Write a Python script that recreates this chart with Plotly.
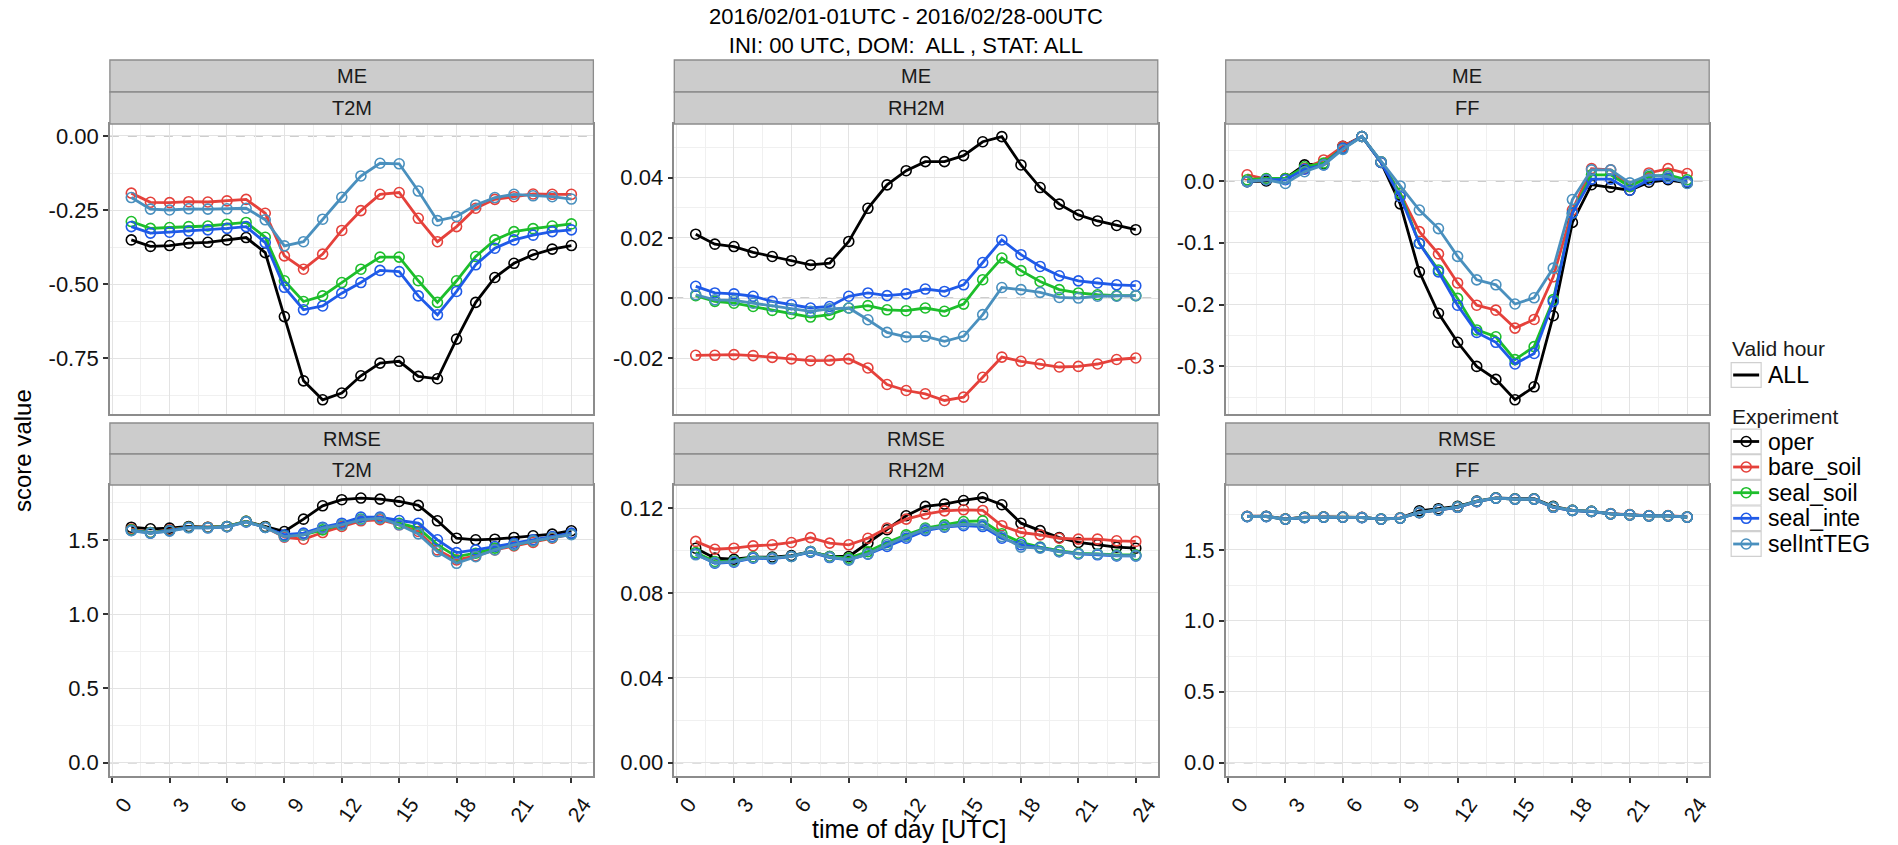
import plotly.graph_objects as go

# ---------------- data ----------------
hours = list(range(1, 25))
experiments = ["oper", "bare_soil", "seal_soil", "seal_inte", "selIntTEG"]
exp_colors = ["#000000", "#E5413B", "#1DBE2B", "#1F5AE8", "#4A90BE"]
valid_hours = ["ALL"]
scores = ["ME", "ME", "ME", "RMSE", "RMSE", "RMSE"]
params = ["T2M", "RH2M", "FF", "T2M", "RH2M", "FF"]

me_t2m_oper = [-0.351, -0.373, -0.370, -0.362, -0.359, -0.351, -0.343, -0.394, -0.610, -0.827, -0.891, -0.868,
               -0.810, -0.767, -0.761, -0.812, -0.820, -0.686, -0.562, -0.478, -0.430, -0.401, -0.382, -0.370]
me_t2m_bare_soil = [-0.193, -0.224, -0.225, -0.222, -0.223, -0.219, -0.214, -0.261, -0.405, -0.450, -0.399, -0.319,
                    -0.252, -0.197, -0.191, -0.278, -0.357, -0.306, -0.244, -0.214, -0.205, -0.196, -0.197, -0.197]
me_t2m_seal_soil = [-0.289, -0.312, -0.309, -0.306, -0.304, -0.298, -0.292, -0.342, -0.489, -0.559, -0.540, -0.495,
                    -0.450, -0.409, -0.409, -0.489, -0.562, -0.489, -0.407, -0.351, -0.323, -0.313, -0.304, -0.297]
me_t2m_seal_inte = [-0.306, -0.328, -0.325, -0.321, -0.317, -0.312, -0.306, -0.360, -0.511, -0.587, -0.574, -0.531,
                    -0.495, -0.454, -0.458, -0.540, -0.604, -0.525, -0.435, -0.379, -0.351, -0.335, -0.323, -0.317]
me_t2m_selIntTEG = [-0.208, -0.247, -0.250, -0.246, -0.247, -0.246, -0.244, -0.283, -0.371, -0.357, -0.281, -0.207,
                    -0.135, -0.092, -0.094, -0.186, -0.286, -0.272, -0.233, -0.208, -0.197, -0.202, -0.205, -0.213]

me_rh2m_oper = [0.0212, 0.0179, 0.0171, 0.0152, 0.0138, 0.0124, 0.0110, 0.0116, 0.0188, 0.0298, 0.0376, 0.0423,
                0.0453, 0.0453, 0.0473, 0.0519, 0.0536, 0.0442, 0.0367, 0.0312, 0.0276, 0.0256, 0.0241, 0.0227]
me_rh2m_bare_soil = [-0.0190, -0.0190, -0.0188, -0.0191, -0.0197, -0.0202, -0.0208, -0.0207, -0.0202, -0.0232,
                     -0.0287, -0.0307, -0.0318, -0.0340, -0.0329, -0.0263, -0.0196, -0.0210, -0.0219, -0.0229,
                     -0.0227, -0.0219, -0.0204, -0.0199]
me_rh2m_seal_soil = [0.0008, -0.0011, -0.0017, -0.0028, -0.0041, -0.0052, -0.0063, -0.0055, -0.0033, -0.0025,
                     -0.0039, -0.0042, -0.0033, -0.0044, -0.0020, 0.0061, 0.0133, 0.0091, 0.0055, 0.0028,
                     0.0017, 0.0011, 0.0008, 0.0008]
me_rh2m_seal_inte = [0.0039, 0.0017, 0.0014, 0.0006, -0.0011, -0.0022, -0.0033, -0.0028, 0.0006, 0.0017,
                     0.0008, 0.0014, 0.0030, 0.0022, 0.0044, 0.0118, 0.0193, 0.0144, 0.0105, 0.0074,
                     0.0057, 0.0050, 0.0044, 0.0041]
me_rh2m_selIntTEG = [0.0011, -0.0006, -0.0008, -0.0017, -0.0028, -0.0036, -0.0044, -0.0036, -0.0033, -0.0072,
                     -0.0114, -0.0129, -0.0127, -0.0144, -0.0127, -0.0055, 0.0035, 0.0028, 0.0019, 0.0002,
                     0.0000, 0.0006, 0.0006, 0.0008]

me_ff_oper = [-0.001, 0.000, 0.004, 0.026, 0.028, 0.056, 0.072, 0.030, -0.037, -0.147, -0.214, -0.261,
              -0.300, -0.321, -0.354, -0.333, -0.218, -0.067, -0.006, -0.010, -0.015, -0.002, 0.002, -0.003]
me_ff_bare_soil = [0.010, 0.003, 0.004, 0.020, 0.034, 0.056, 0.072, 0.031, -0.020, -0.082, -0.118, -0.165,
                   -0.201, -0.209, -0.238, -0.224, -0.155, -0.047, 0.020, 0.018, -0.009, 0.013, 0.020, 0.012]
me_ff_seal_soil = [0.002, 0.004, 0.004, 0.023, 0.029, 0.053, 0.072, 0.031, -0.020, -0.101, -0.144, -0.190,
                   -0.241, -0.252, -0.289, -0.268, -0.192, -0.052, 0.010, 0.010, -0.009, 0.007, 0.010, 0.002]
me_ff_seal_inte = [-0.001, 0.002, 0.002, 0.019, 0.026, 0.053, 0.072, 0.030, -0.025, -0.101, -0.147, -0.201,
                   -0.245, -0.261, -0.296, -0.279, -0.195, -0.052, 0.003, 0.003, -0.015, 0.002, 0.004, -0.001]
me_ff_selIntTEG = [-0.001, 0.002, -0.004, 0.015, 0.026, 0.051, 0.072, 0.031, -0.008, -0.047, -0.077, -0.122,
                   -0.160, -0.168, -0.199, -0.189, -0.141, -0.030, 0.018, 0.018, -0.003, 0.010, 0.007, -0.004]

rmse_t2m_oper = [1.585, 1.574, 1.579, 1.590, 1.585, 1.590, 1.624, 1.590, 1.556, 1.639, 1.729, 1.770,
                 1.781, 1.774, 1.758, 1.732, 1.628, 1.511, 1.500, 1.504, 1.516, 1.527, 1.538, 1.561]
rmse_t2m_bare_soil = [1.572, 1.549, 1.567, 1.585, 1.585, 1.590, 1.624, 1.585, 1.518, 1.504, 1.549, 1.590,
                      1.628, 1.635, 1.601, 1.556, 1.432, 1.365, 1.392, 1.432, 1.459, 1.482, 1.511, 1.538]
rmse_t2m_seal_soil = [1.567, 1.549, 1.563, 1.585, 1.583, 1.590, 1.624, 1.585, 1.527, 1.534, 1.567, 1.601,
                      1.639, 1.646, 1.612, 1.579, 1.466, 1.387, 1.410, 1.444, 1.466, 1.493, 1.516, 1.540]
rmse_t2m_seal_inte = [1.563, 1.545, 1.561, 1.583, 1.581, 1.588, 1.621, 1.583, 1.534, 1.545, 1.585, 1.612,
                      1.653, 1.653, 1.630, 1.612, 1.500, 1.414, 1.432, 1.455, 1.477, 1.500, 1.522, 1.545]
rmse_t2m_selIntTEG = [1.561, 1.545, 1.558, 1.581, 1.581, 1.588, 1.621, 1.583, 1.522, 1.534, 1.579, 1.601,
                      1.635, 1.646, 1.601, 1.540, 1.421, 1.342, 1.387, 1.432, 1.466, 1.493, 1.516, 1.534]

rmse_rh2m_oper = [0.1011, 0.0964, 0.0959, 0.0969, 0.0969, 0.0976, 0.0995, 0.0972, 0.0972, 0.1035, 0.1098, 0.1164,
                  0.1208, 0.1219, 0.1236, 0.1250, 0.1216, 0.1129, 0.1094, 0.1061, 0.1038, 0.1027, 0.1016, 0.1011]
rmse_rh2m_bare_soil = [0.1043, 0.1006, 0.1011, 0.1022, 0.1027, 0.1038, 0.1061, 0.1035, 0.1027, 0.1058, 0.1106,
                       0.1148, 0.1172, 0.1187, 0.1192, 0.1189, 0.1117, 0.1085, 0.1074, 0.1058, 0.1054, 0.1054,
                       0.1046, 0.1043]
rmse_rh2m_seal_soil = [0.0991, 0.0948, 0.0951, 0.0969, 0.0964, 0.0972, 0.0995, 0.0972, 0.0964, 0.0995, 0.1038,
                       0.1074, 0.1106, 0.1121, 0.1137, 0.1140, 0.1079, 0.1038, 0.1016, 0.1000, 0.0987, 0.0984,
                       0.0980, 0.0980]
rmse_rh2m_seal_inte = [0.0984, 0.0940, 0.0945, 0.0964, 0.0961, 0.0972, 0.0992, 0.0967, 0.0956, 0.0983, 0.1019,
                       0.1058, 0.1094, 0.1110, 0.1117, 0.1113, 0.1058, 0.1027, 0.1014, 0.0995, 0.0984, 0.0980,
                       0.0975, 0.0975]
rmse_rh2m_selIntTEG = [0.0980, 0.0943, 0.0948, 0.0967, 0.0964, 0.0972, 0.0995, 0.0969, 0.0956, 0.0984, 0.1027,
                       0.1066, 0.1101, 0.1113, 0.1124, 0.1121, 0.1066, 0.1016, 0.1011, 0.0995, 0.0984, 0.0983,
                       0.0976, 0.0975]

rmse_ff_oper = [1.735, 1.737, 1.717, 1.730, 1.731, 1.731, 1.728, 1.717, 1.724, 1.775, 1.790, 1.806,
                1.843, 1.866, 1.860, 1.860, 1.806, 1.778, 1.771, 1.754, 1.747, 1.740, 1.740, 1.731]
rmse_ff_bare_soil = [1.737, 1.735, 1.718, 1.728, 1.732, 1.731, 1.729, 1.716, 1.725, 1.762, 1.781, 1.800,
                     1.840, 1.864, 1.857, 1.857, 1.800, 1.779, 1.771, 1.755, 1.748, 1.741, 1.741, 1.733]
rmse_ff_seal_soil = [1.735, 1.735, 1.717, 1.729, 1.731, 1.730, 1.728, 1.717, 1.724, 1.763, 1.781, 1.801,
                     1.841, 1.865, 1.858, 1.858, 1.801, 1.778, 1.771, 1.754, 1.747, 1.740, 1.740, 1.731]
rmse_ff_seal_inte = [1.734, 1.734, 1.716, 1.727, 1.730, 1.730, 1.727, 1.716, 1.723, 1.762, 1.780, 1.800,
                     1.840, 1.864, 1.857, 1.857, 1.800, 1.777, 1.770, 1.753, 1.746, 1.739, 1.739, 1.730]
rmse_ff_selIntTEG = [1.735, 1.735, 1.717, 1.728, 1.731, 1.731, 1.728, 1.717, 1.724, 1.764, 1.782, 1.801,
                     1.841, 1.865, 1.858, 1.858, 1.801, 1.778, 1.771, 1.754, 1.747, 1.740, 1.740, 1.731]

panel_data = [
    [me_t2m_oper, me_t2m_bare_soil, me_t2m_seal_soil, me_t2m_seal_inte, me_t2m_selIntTEG],
    [me_rh2m_oper, me_rh2m_bare_soil, me_rh2m_seal_soil, me_rh2m_seal_inte, me_rh2m_selIntTEG],
    [me_ff_oper, me_ff_bare_soil, me_ff_seal_soil, me_ff_seal_inte, me_ff_selIntTEG],
    [rmse_t2m_oper, rmse_t2m_bare_soil, rmse_t2m_seal_soil, rmse_t2m_seal_inte, rmse_t2m_selIntTEG],
    [rmse_rh2m_oper, rmse_rh2m_bare_soil, rmse_rh2m_seal_soil, rmse_rh2m_seal_inte, rmse_rh2m_selIntTEG],
    [rmse_ff_oper, rmse_ff_bare_soil, rmse_ff_seal_soil, rmse_ff_seal_inte, rmse_ff_selIntTEG],
]

x_ticks = [0, 3, 6, 9, 12, 15, 18, 21, 24]
y_tickvals = [
    [-0.75, -0.50, -0.25, 0.00],
    [-0.02, 0.00, 0.02, 0.04],
    [-0.3, -0.2, -0.1, 0.0],
    [0.0, 0.5, 1.0, 1.5],
    [0.00, 0.04, 0.08, 0.12],
    [0.0, 0.5, 1.0, 1.5],
]
y_ticktext = [
    ["-0.75", "-0.50", "-0.25", "0.00"],
    ["-0.02", "0.00", "0.02", "0.04"],
    ["-0.3", "-0.2", "-0.1", "0.0"],
    ["0.0", "0.5", "1.0", "1.5"],
    ["0.00", "0.04", "0.08", "0.12"],
    ["0.0", "0.5", "1.0", "1.5"],
]
y_ranges = [[-0.939, 0.0405], [-0.0385, 0.0578], [-0.377, 0.0922],
            [-0.090, 1.869], [-0.0063, 0.1309], [-0.094, 1.957]]
y_minor = [(-0.125, 0.25), (0.01, 0.02), (0.05, 0.1), (0.25, 0.5), (0.02, 0.04), (0.25, 0.5)]

title_lines = ["2016/02/01-01UTC - 2016/02/28-00UTC", "INI: 00 UTC, DOM:  ALL , STAT: ALL"]

# ---------------- layout geometry (pixels) ----------------
W, H = 1898, 845
FONT = "Liberation Sans"
col_px = [(110, 594), (675, 1159), (1227, 1711)]
row_px = [(124, 414), (485, 776)]
strip_px = [[(60, 92), (92, 124)], [(423, 454), (454, 485)]]

# legend geometry (pixels)
leg_key_x = (1733, 1763)
leg_text_x = 1768
leg_valid_title_y = 349
leg_valid_rows_y = [375]
leg_exp_title_y = 416
leg_exp_rows_y = [441.5, 467, 492.7, 518.3, 544]
leg_row_h = 25.6


def px_x(p):
    return p / W


def px_y(p):
    return 1 - p / H


fig = go.Figure()

shapes = []
annotations = []
layout_axes = {}

for i in range(6):
    r, c = divmod(i, 3)
    k = i + 1
    xa = "x" if k == 1 else f"x{k}"
    ya = "y" if k == 1 else f"y{k}"
    for j, exp in enumerate(experiments):
        fig.add_trace(go.Scatter(
            x=hours, y=panel_data[i][j], mode="lines+markers", name=exp,
            line=dict(color=exp_colors[j], width=2.8),
            marker=dict(symbol="circle-open", size=10, color=exp_colors[j],
                        line=dict(width=1.6, color=exp_colors[j])),
            xaxis=xa, yaxis=ya, showlegend=False,
            hovertemplate=f"{scores[i]} {params[i]}<br>{exp}: %{{y}}<extra></extra>",
        ))

    x0, x1 = col_px[c]
    y0, y1 = row_px[r]
    xkey = "xaxis" if k == 1 else f"xaxis{k}"
    ykey = "yaxis" if k == 1 else f"yaxis{k}"
    layout_axes[xkey] = dict(
        domain=[px_x(x0), px_x(x1)], anchor=ya, range=[-0.12, 25.15],
        tickmode="array", tickvals=x_ticks, ticktext=[str(v) for v in x_ticks],
        showticklabels=(r == 1), ticks="outside" if r == 1 else "",
        ticklen=5, tickwidth=1.5, tickcolor="#333333", tickangle=-55,
        ticklabelshift=12, ticklabelstandoff=1,
        tickfont=dict(family=FONT, size=21, color="#111111"),
        showgrid=True, gridcolor="#E3E3E3", gridwidth=1.2,
        minor=dict(tickmode="linear", tick0=1.5, dtick=3, showgrid=True,
                   gridcolor="#F0F0F0", gridwidth=0.8, ticks=""),
        showline=True, mirror=True, linecolor="#8C8C8C", linewidth=1.5,
        zeroline=False, fixedrange=True,
    )
    t0, dt = y_minor[i]
    layout_axes[ykey] = dict(
        domain=[px_y(y1), px_y(y0)], anchor=xa, range=y_ranges[i],
        tickmode="array", tickvals=y_tickvals[i], ticktext=y_ticktext[i],
        ticks="outside", ticklen=5, tickwidth=1.5, tickcolor="#333333",
        tickfont=dict(family=FONT, size=22, color="#111111"),
        showgrid=True, gridcolor="#E3E3E3", gridwidth=1.2,
        minor=dict(tickmode="linear", tick0=t0, dtick=dt, showgrid=True,
                   gridcolor="#F0F0F0", gridwidth=0.8, ticks=""),
        showline=True, mirror=True, linecolor="#8C8C8C", linewidth=1.5,
        zeroline=False, fixedrange=True,
    )

    # dashed reference line at zero
    shapes.append(dict(type="line", xref=f"{xa} domain", yref=ya, x0=0, x1=1, y0=0, y1=0,
                       line=dict(color="#BDBDBD", width=1.5, dash="dash"), layer="below"))

    # facet strips (score / parameter)
    for s, label in enumerate([scores[i], params[i]]):
        sy0, sy1 = strip_px[r][s]
        shapes.append(dict(type="rect", xref="paper", yref="paper",
                           x0=px_x(x0), x1=px_x(x1), y0=px_y(sy1), y1=px_y(sy0),
                           fillcolor="#CCCCCC", line=dict(color="#8C8C8C", width=1.3)))
        annotations.append(dict(text=label, xref="paper", yref="paper",
                                x=px_x((x0 + x1) / 2), y=px_y((sy0 + sy1) / 2),
                                xanchor="center", yanchor="middle", showarrow=False,
                                font=dict(family=FONT, size=20, color="#1A1A1A")))

# ---------------- legend (drawn manually, ggplot-style keys) ----------------
def legend_title(text, cy):
    annotations.append(dict(text=text, xref="paper", yref="paper", x=px_x(leg_key_x[0] - 1), y=px_y(cy),
                            xanchor="left", yanchor="middle", showarrow=False,
                            font=dict(family=FONT, size=21, color="#1A1A1A")))


def legend_key(label, color, cy, with_marker):
    kx0, kx1 = leg_key_x
    shapes.append(dict(type="rect", xref="paper", yref="paper",
                       x0=px_x(kx0), x1=px_x(kx1),
                       y0=px_y(cy + leg_row_h / 2 - 0.5), y1=px_y(cy - leg_row_h / 2 + 0.5),
                       fillcolor="white", line=dict(color="#D0D0D0", width=1.2)))
    shapes.append(dict(type="line", xref="paper", yref="paper",
                       x0=px_x(kx0 + 2), x1=px_x(kx1 - 2), y0=px_y(cy), y1=px_y(cy),
                       line=dict(color=color, width=3 if not with_marker else 2.8)))
    if with_marker:
        cx = (kx0 + kx1) / 2
        shapes.append(dict(type="circle", xref="paper", yref="paper",
                           x0=px_x(cx - 5), x1=px_x(cx + 5), y0=px_y(cy + 5), y1=px_y(cy - 5),
                           line=dict(color=color, width=1.6)))
    annotations.append(dict(text=label, xref="paper", yref="paper", x=px_x(leg_text_x), y=px_y(cy),
                            xanchor="left", yanchor="middle", showarrow=False,
                            font=dict(family=FONT, size=23, color="#000000")))


legend_title("Valid hour", leg_valid_title_y)
for lab, cy in zip(valid_hours, leg_valid_rows_y):
    legend_key(lab, "#000000", cy, False)
legend_title("Experiment", leg_exp_title_y)
for lab, col, cy in zip(experiments, exp_colors, leg_exp_rows_y):
    legend_key(lab, col, cy, True)

# titles
annotations.append(dict(text="<br>".join(title_lines), xref="paper", yref="paper", x=px_x(907), y=px_y(30.5),
                        xanchor="center", yanchor="middle", showarrow=False, align="center",
                        font=dict(family=FONT, size=22, color="#000000")))
annotations.append(dict(text="time of day [UTC]", xref="paper", yref="paper", x=px_x(910), y=px_y(829),
                        xanchor="center", yanchor="middle", showarrow=False,
                        font=dict(family=FONT, size=25, color="#000000")))
annotations.append(dict(text="score value", xref="paper", yref="paper", x=px_x(22), y=px_y(450),
                        xanchor="center", yanchor="middle", showarrow=False, textangle=-90,
                        font=dict(family=FONT, size=24, color="#000000")))

fig.update_layout(
    width=W, height=H,
    margin=dict(l=0, r=0, t=0, b=0),
    paper_bgcolor="white", plot_bgcolor="white",
    shapes=shapes, annotations=annotations,
    showlegend=False,
    **layout_axes,
)

fig.write_html("out.html", config={"displayModeBar": False},
               post_script="document.body.style.margin='0px';document.body.style.overflow='hidden';")
